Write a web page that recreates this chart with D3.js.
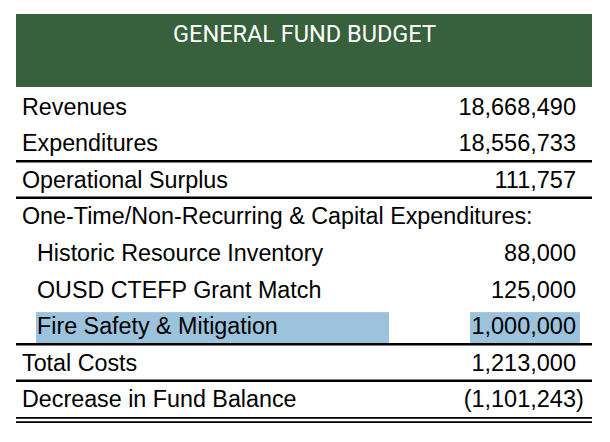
<!DOCTYPE html>
<html>
<head>
<meta charset="utf-8">
<script src="https://cdn.jsdelivr.net/npm/d3@7"></script>
<style>
  html, body { margin: 0; padding: 0; background: #ffffff; }
  svg { display: block; }
</style>
</head>
<body>
<svg id="chart" width="610" height="442"></svg>
<script>
// ---- data ----
const title = "GENERAL FUND BUDGET";
const labels = [
  "Revenues",
  "Expenditures",
  "Operational Surplus",
  "One-Time/Non-Recurring & Capital Expenditures:",
  "Historic Resource Inventory",
  "OUSD CTEFP Grant Match",
  "Fire Safety & Mitigation",
  "Total Costs",
  "Decrease in Fund Balance"
];
const values = [18668490, 18556733, 111757, null, 88000, 125000, 1000000, 1213000, -1101243];
const indented = [false, false, false, false, true, true, true, false, false];
const borderBelow = ["none", "single", "single", "none", "none", "none", "single", "single", "double"];
const highlighted = [false, false, false, false, false, false, true, false, false];

// ---- layout ----
const W = 610, H = 442;
const left = 16, right = 592;
const headerTop = 14, headerBottom = 87;
const rowStep = 36.6;
const labelX = 22, indentX = 37, valueRight = 576;
const green = "#37603c", blue = "#9dc3dc";
const fontRows = "'Liberation Sans', Arial, sans-serif";
const fontTitle = "Roboto, 'Liberation Sans', sans-serif";

const svg = d3.select("#chart");
const y = d3.scaleBand()
  .domain(d3.range(labels.length))
  .range([headerBottom, headerBottom + labels.length * rowStep])
  .paddingInner(0).paddingOuter(0);

const fmt = d3.format(",");

// header
svg.append("rect")
  .attr("x", left).attr("y", headerTop)
  .attr("width", right - left).attr("height", headerBottom - headerTop)
  .attr("fill", green);
svg.append("text")
  .attr("x", (left + right) / 2 + 0.5).attr("y", 42)
  .attr("text-anchor", "middle")
  .attr("font-family", fontTitle)
  .attr("font-size", 23.5)
  .attr("fill", "#ffffff")
  .text(title);

const rows = svg.selectAll("g.row")
  .data(labels.map((l, i) => ({ label: l, value: values[i], indent: indented[i], border: borderBelow[i], hl: highlighted[i], i })))
  .join("g").attr("class", "row");

// highlight boxes (label cell and value cell)
rows.filter(d => d.hl).each(function(d) {
  const g = d3.select(this);
  const top = y(d.i) + 5.5, h = y.bandwidth() - 5.5;
  g.append("rect").attr("x", 36).attr("y", top).attr("width", 389 - 36).attr("height", h).attr("fill", blue);
  g.append("rect").attr("x", 470).attr("y", top).attr("width", 580 - 470).attr("height", h).attr("fill", blue);
});

// labels
rows.append("text")
  .attr("x", d => d.indent ? indentX : labelX)
  .attr("y", d => y(d.i) + 27.5)
  .attr("font-family", fontRows)
  .attr("font-size", 23.3)
  .attr("fill", "#000")
  .text(d => d.label);

// values (accounting format: negatives in parentheses, closing paren hangs right)
rows.filter(d => d.value !== null).each(function(d) {
  const g = d3.select(this);
  const t = g.append("text")
    .attr("y", y(d.i) + 27.5)
    .attr("font-family", fontRows)
    .attr("font-size", 23.5)
    .attr("fill", "#000");
  if (d.value < 0) {
    t.attr("x", valueRight).attr("text-anchor", "end").text("(" + fmt(-d.value));
    g.append("text")
      .attr("x", valueRight).attr("y", y(d.i) + 27.5)
      .attr("font-family", fontRows).attr("font-size", 23.5).attr("fill", "#000")
      .text(")");
  } else {
    t.attr("x", valueRight).attr("text-anchor", "end").text(fmt(d.value));
  }
});

// borders
rows.each(function(d) {
  const g = d3.select(this);
  const yb = y(d.i) + y.bandwidth() + 1;
  if (d.border === "single") {
    g.append("line").attr("x1", left).attr("x2", right).attr("y1", yb).attr("y2", yb)
      .attr("stroke", "#000").attr("stroke-width", 2.4);
  } else if (d.border === "double") {
    g.append("line").attr("x1", left).attr("x2", right).attr("y1", yb + 0.5).attr("y2", yb + 0.5)
      .attr("stroke", "#000").attr("stroke-width", 1.7);
    g.append("line").attr("x1", left).attr("x2", right).attr("y1", yb + 4.8).attr("y2", yb + 4.8)
      .attr("stroke", "#000").attr("stroke-width", 1.7);
  }
});
</script>
</body>
</html>
